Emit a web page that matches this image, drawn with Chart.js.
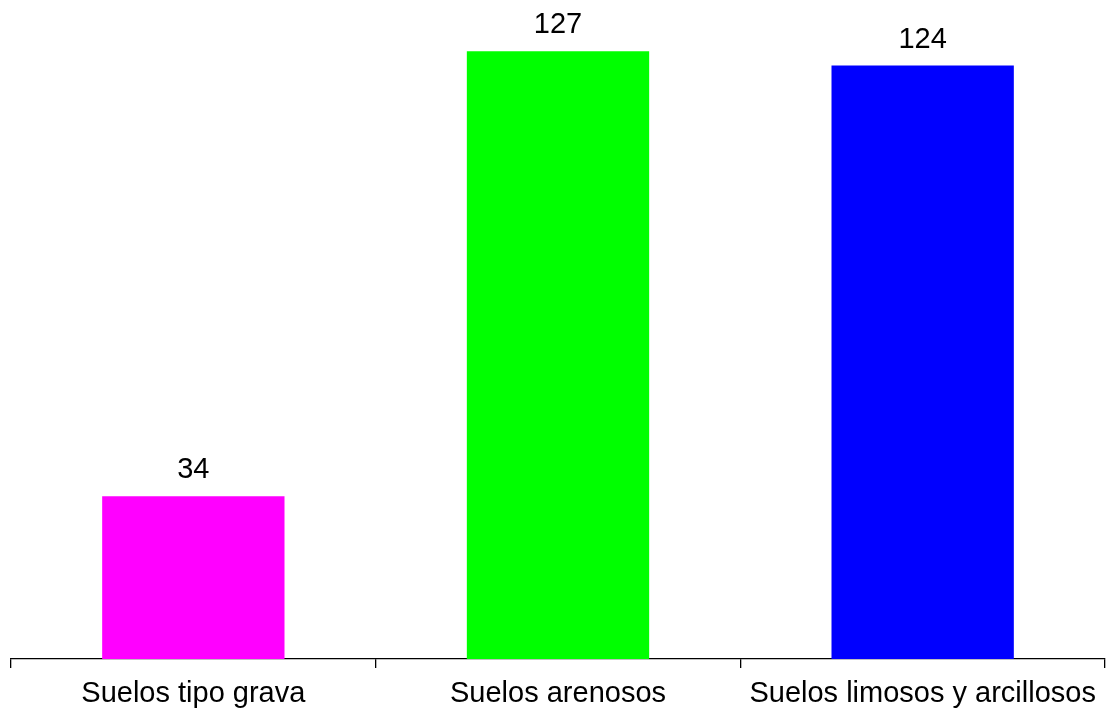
<!DOCTYPE html>
<html>
<head>
<meta charset="utf-8">
<script src="https://cdn.jsdelivr.net/npm/chart.js@4/dist/chart.umd.min.js"></script>
<style>
  html, body { margin: 0; padding: 0; background: #fff; }
  #wrap { width: 1108px; height: 711px; }
</style>
</head>
<body>
<div id="wrap"><canvas id="c" width="1108" height="711"></canvas></div>
<script>
const categories = ['Suelos tipo grava', 'Suelos arenosos', 'Suelos limosos y arcillosos'];
const counts = [34, 127, 124];
const barColors = ['#FF00FF', '#00FF00', '#0000FF'];

const FONT = "'Liberation Sans', Arial, sans-serif";

// Writes each bar's value centred above it
const valueLabels = {
  id: 'valueLabels',
  afterDatasetsDraw(chart) {
    const ctx = chart.ctx;
    const meta = chart.getDatasetMeta(0);
    ctx.save();
    ctx.font = '29px ' + FONT;
    ctx.fillStyle = '#000';
    ctx.textAlign = 'center';
    ctx.textBaseline = 'alphabetic';
    meta.data.forEach((bar, i) => {
      ctx.fillText(String(chart.data.datasets[0].data[i]), bar.x, bar.y - 18);
    });
    ctx.restore();
  }
};

new Chart(document.getElementById('c'), {
  type: 'bar',
  data: {
    labels: categories,
    datasets: [{
      data: counts,
      backgroundColor: barColors,
      borderWidth: 0,
      categoryPercentage: 1,
      barPercentage: 0.5
    }]
  },
  options: {
    responsive: false,
    animation: false,
    layout: { padding: { left: 11, right: 3, top: 0, bottom: 0 } },
    plugins: { legend: { display: false }, tooltip: { enabled: false } },
    scales: {
      x: {
        afterFit(scale) { scale.height = 52; },
        border: { display: true, color: '#000', width: 1.3 },
        grid: {
          offset: true,
          drawOnChartArea: false,
          drawTicks: true,
          tickLength: 9,
          color: '#000',
          lineWidth: 1.3
        },
        ticks: {
          color: '#000',
          padding: 9,
          maxRotation: 0,
          autoSkip: false,
          font: { family: FONT, size: 29 }
        }
      },
      y: {
        display: false,
        min: 0,
        max: 137.7
      }
    }
  },
  plugins: [valueLabels]
});
</script>
</body>
</html>
